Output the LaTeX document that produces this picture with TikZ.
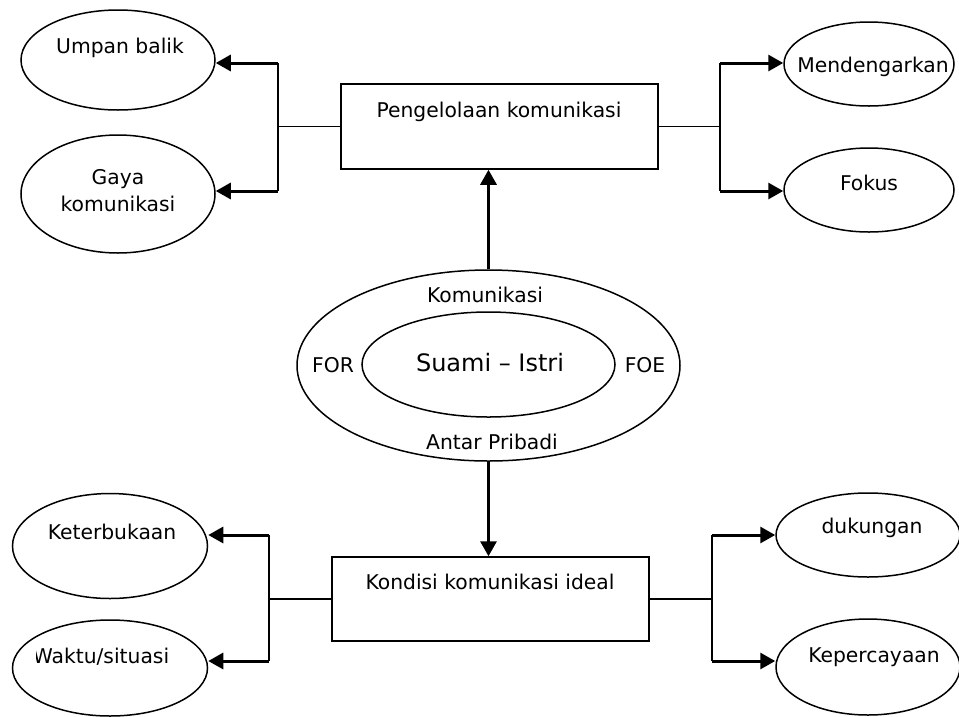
\documentclass[tikz,border=0pt]{standalone}
\usepackage{fontspec}
\setmainfont{DejaVu Sans}
\usetikzlibrary{shapes.geometric,arrows.meta}
\begin{document}
\begin{tikzpicture}[x=1pt,y=-1pt,
  oval/.style={draw,ellipse,line width=1.5pt,inner sep=0pt},
  boxn/.style={draw,rectangle,line width=1.5pt,inner sep=0pt},
  lbl/.style={inner sep=0pt,font=\fontsize{20.3}{27}\selectfont,align=center},
  big/.style={inner sep=0pt,font=\fontsize{24}{28}\selectfont},
  thin/.style={line width=1.6pt},
  vline/.style={line width=2.4pt},
  arr/.style={line width=3pt,-{Triangle[length=15pt,width=16pt]}}]
\useasboundingbox (0,0) rectangle (959,716);
% top left ovals
\node[oval,minimum width=194pt,minimum height=100pt] (ub) at (118,60) {};
\node[lbl] (tub) at (120,48) {Umpan balik};
\node[oval,minimum width=194pt,minimum height=118pt] (gk) at (118,194) {};
\node[lbl] (tgk) at (118,191) {Gaya\\komunikasi};
% top box
\node[boxn,minimum width=317pt,minimum height=85pt] (b1) at (499.5,126.5) {};
\node[lbl] (tb1) at (499,112) {Pengelolaan komunikasi};
% top right ovals
\node[oval,minimum width=170pt,minimum height=84pt] (me) at (869,64) {};
\node[lbl] (tme) at (873,67) {Mendengarkan};
\node[oval,minimum width=170pt,minimum height=84pt] (fo) at (869,190) {};
\node[lbl] (tfo) at (869,183) {Fokus};
% centre
\node[oval,minimum width=383pt,minimum height=191pt] (outer) at (488.5,365.5) {};
\node[oval,minimum width=253pt,minimum height=105pt] (inner) at (488.5,364.5) {};
\node[lbl] (tkom) at (485,295) {Komunikasi};
\node[lbl] (tfor) at (333,365) {FOR};
\node[lbl] (tfoe) at (645,365) {FOE};
\node[big] (tsi) at (490,363) {Suami – Istri};
\node[lbl] (tap) at (492,442) {Antar Pribadi};
% bottom box
\node[boxn,minimum width=317pt,minimum height=84pt] (b2) at (490.5,599) {};
\node[lbl] (tb2) at (490,582) {Kondisi komunikasi ideal};
% bottom left ovals
\node[oval,minimum width=195pt,minimum height=105pt] (ke) at (110,546) {};
\node[lbl] (tke) at (112,532) {Keterbukaan};
\node[oval,minimum width=195pt,minimum height=96pt] (wa) at (110,668) {};
\begin{scope}
\clip (36,630) rectangle (200,690);
\node[lbl] (twa) at (101,657) {Waktu/situasi};
\end{scope}
% bottom right ovals
\node[oval,minimum width=184pt,minimum height=84pt] (du) at (868,535) {};
\node[lbl] (tdu) at (872,528) {dukungan};
\node[oval,minimum width=184pt,minimum height=96pt] (kp) at (868,667) {};
\node[lbl] (tkp) at (874,657) {Kepercayaan};
% junction coordinates
\coordinate (tl1) at (278,63);
\coordinate (tl2) at (278,191);
\coordinate (tr1) at (720,63);
\coordinate (tr2) at (720,191);
\coordinate (bl1) at (269,535);
\coordinate (bl2) at (269,661);
\coordinate (br1) at (712,535);
\coordinate (br2) at (712,661);
% top left connectors
\draw[thin] (b1.west) -- (b1.west -| tl1);
\draw[vline] (tl1) -- (tl2);
\draw[arr] (tl1) -- (tl1 -| ub.east);
\draw[arr] (tl2) -- (tl2 -| gk.east);
% top right connectors
\draw[thin] (b1.east) -- (b1.east -| tr1);
\draw[vline] (tr1) -- (tr2);
\draw[arr] (tr1) -- (tr1 -| me.west);
\draw[arr] (tr2) -- (tr2 -| fo.west);
% centre arrows
\draw[arr] (outer.north) -- (outer.north |- b1.south);
\draw[arr] (outer.south) -- (outer.south |- b2.north);
% bottom left connectors
\draw[thin] (b2.west) -- (b2.west -| bl1);
\draw[vline] (bl1) -- (bl2);
\draw[arr] (bl1) -- (bl1 -| ke.east);
\draw[arr] (bl2) -- (bl2 -| wa.east);
% bottom right connectors
\draw[thin] (b2.east) -- (b2.east -| br1);
\draw[vline] (br1) -- (br2);
\draw[arr] (br1) -- (br1 -| du.west);
\draw[arr] (br2) -- (br2 -| kp.west);
\end{tikzpicture}
\end{document}
